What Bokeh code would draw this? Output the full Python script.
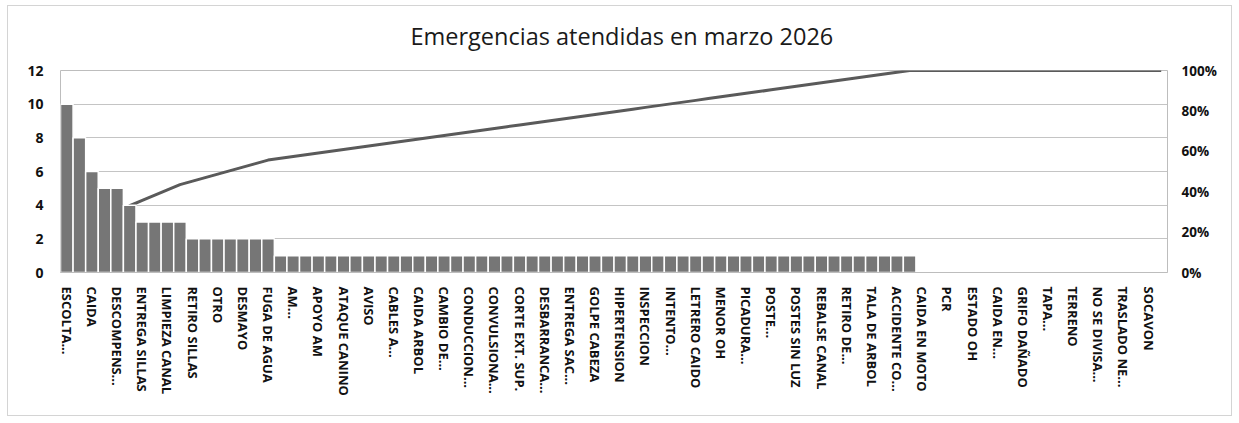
from bokeh.plotting import figure
from bokeh.models import Range1d, LinearAxis, FixedTicker, NumeralTickFormatter, ColumnDataSource
from bokeh.embed import file_html
from bokeh.resources import INLINE
import numpy as np

title_text = "Emergencias atendidas en marzo 2026"

counts = [10, 8, 6, 5, 5, 4, 3, 3, 3, 3,
          2, 2, 2, 2, 2, 2, 2,
          1, 1, 1, 1, 1, 1, 1, 1, 1, 1,
          1, 1, 1, 1, 1, 1, 1, 1, 1, 1,
          1, 1, 1, 1, 1, 1, 1, 1, 1, 1,
          1, 1, 1, 1, 1, 1, 1, 1, 1, 1,
          1, 1, 1, 1, 1, 1, 1, 1, 1, 1,
          1,
          0, 0, 0, 0, 0, 0, 0, 0, 0, 0,
          0, 0, 0, 0, 0, 0, 0, 0, 0, 0]

# labels shown on every other category (Excel skips alternate labels)
tick_labels = ["ESCOLTA...", "CAIDA", "DESCOMPENS...", "ENTREGA SILLAS", "LIMPIEZA CANAL",
               "RETIRO SILLAS", "OTRO", "DESMAYO", "FUGA DE AGUA", "AM...", "APOYO AM",
               "ATAQUE CANINO", "AVISO", "CABLES A...", "CAIDA ARBOL", "CAMBIO DE...",
               "CONDUCCION...", "CONVULSIONA...", "CORTE EXT. SUP.", "DESBARRANCA...",
               "ENTREGA SAC...", "GOLPE CABEZA", "HIPERTENSION", "INSPECCION", "INTENTO...",
               "LETRERO CAIDO", "MENOR OH", "PICADURA...", "POSTE...", "POSTES SIN LUZ",
               "REBALSE CANAL", "RETIRO DE...", "TALA DE ARBOL", "ACCIDENTE CO...",
               "CAIDA EN MOTO", "PCR", "ESTADO OH", "CAIDA EN...", "GRIFO DAÑADO", "TAPA...",
               "TERRENO", "NO SE DIVISA...", "TRASLADO NE...", "SOCAVON"]

y_ticks = [0, 2, 4, 6, 8, 10, 12]
pct_ticks = [0, 0.2, 0.4, 0.6, 0.8, 1.0]

n = len(counts)
xs = list(range(1, n + 1))
cum_pct = (np.cumsum(counts) / np.sum(counts)).tolist()
label_pos = xs[::2][:len(tick_labels)]

src = ColumnDataSource(dict(x=xs, count=counts, pct=cum_pct))

FONT = "Open Sans"

p = figure(width=1239, height=425, output_backend="svg", toolbar_location=None,
           x_range=Range1d(0.5, n + 0.5), y_range=Range1d(0, 12),
           min_border_left=60, min_border_right=72, min_border_top=72, min_border_bottom=151,
           title=title_text)
p.extra_y_ranges = {"pct": Range1d(0, 1)}

p.title.align = "left"
p.title.offset = 350
p.title.text_font = FONT
p.title.text_font_size = "23.5px"
p.title.text_font_style = "normal"
p.title.text_color = "#1a1a1a"
p.title.standoff = 38

p.outline_line_color = "#bdbdbd"
p.background_fill_color = "white"
p.border_fill_color = None

# grid
p.xgrid.grid_line_color = None
p.ygrid.ticker = FixedTicker(ticks=y_ticks)
p.ygrid.grid_line_color = "#c4c4c4"
p.ygrid.grid_line_width = 1

# cumulative line, drawn under the bars (it vanishes inside the first bars, as in the reference)
p.line("x", "pct", source=src, y_range_name="pct", line_color="#5a5a5a", line_width=3)
p.vbar(x="x", top="count", width=1.0, source=src, fill_color="#767676",
       line_color="white", line_width=1.5)

# left axis
ya = p.yaxis[0]
ya.ticker = FixedTicker(ticks=y_ticks)
ya.axis_line_color = None
ya.major_tick_line_color = None
ya.minor_tick_line_color = None
ya.major_label_text_font = FONT
ya.major_label_text_font_style = "bold"
ya.major_label_text_font_size = "14px"
ya.major_label_text_color = "#111111"
ya.major_label_standoff = 11

# right axis
ra = LinearAxis(y_range_name="pct", ticker=FixedTicker(ticks=pct_ticks),
                formatter=NumeralTickFormatter(format="0%"))
ra.axis_line_color = None
ra.major_tick_line_color = None
ra.minor_tick_line_color = None
ra.major_label_text_font = FONT
ra.major_label_text_font_style = "bold"
ra.major_label_text_font_size = "13.5px"
ra.major_label_text_color = "#111111"
ra.major_label_standoff = 8
p.add_layout(ra, "right")

# bottom axis
xa = p.xaxis[0]
xa.ticker = FixedTicker(ticks=label_pos)
xa.major_label_overrides = {int(k): v for k, v in zip(label_pos, tick_labels)}
xa.major_label_orientation = "vertical"
xa.axis_line_color = "#bdbdbd"
xa.major_tick_line_color = None
xa.minor_tick_line_color = None
xa.major_label_text_font = FONT
xa.major_label_text_font_style = "bold"
xa.major_label_text_font_size = "13px"
xa.major_label_text_color = "#111111"
xa.major_label_standoff = 8

# thin light outer chart border, drawn 7px inside the figure edge
p.styles = {"margin-top": "-2px", "background-color": "white",
            "box-shadow": "inset 0 0 0 7px white, inset 0 0 0 8px #d4d4d4"}

open("out.html", "w").write(file_html(p, INLINE))
